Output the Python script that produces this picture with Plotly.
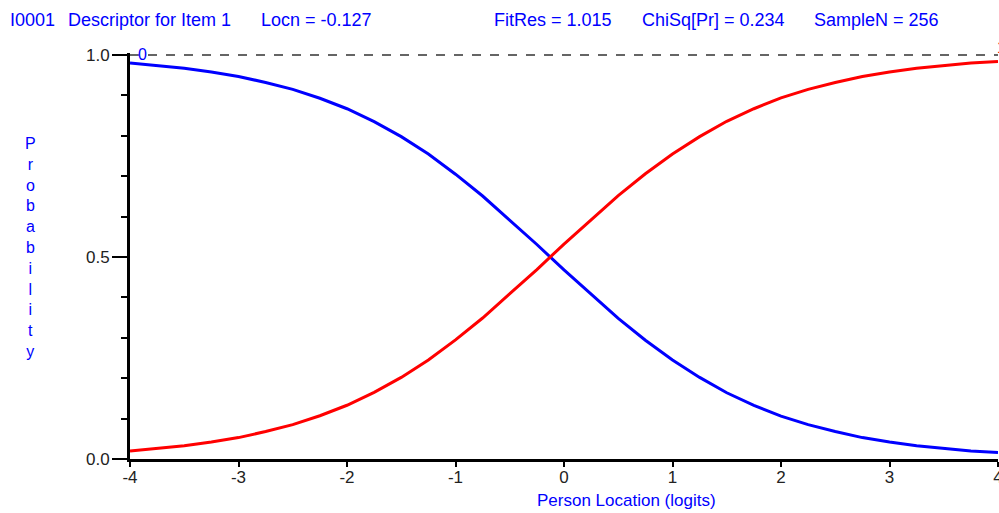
import plotly.graph_objects as go

# Person location (logits)
locations = [-4.0, -3.75, -3.5, -3.25, -3.0, -2.75, -2.5, -2.25, -2.0, -1.75, -1.5, -1.25,
             -1.0, -0.75, -0.5, -0.25, 0.0, 0.25, 0.5, 0.75, 1.0, 1.25, 1.5, 1.75,
             2.0, 2.25, 2.5, 2.75, 3.0, 3.25, 3.5, 3.75, 4.0]

# Category 0 probability (blue)
prob_cat0 = [0.980, 0.974, 0.967, 0.958, 0.947, 0.932, 0.915, 0.893, 0.867, 0.835, 0.798, 0.755,
             0.705, 0.651, 0.592, 0.531, 0.468, 0.407, 0.348, 0.294, 0.245, 0.202, 0.164, 0.133,
             0.106, 0.085, 0.068, 0.053, 0.042, 0.033, 0.026, 0.020, 0.016]

# Category 1 probability (red)
prob_cat1 = [0.020, 0.026, 0.033, 0.042, 0.053, 0.068, 0.085, 0.107, 0.133, 0.165, 0.202, 0.245,
             0.295, 0.349, 0.408, 0.469, 0.532, 0.593, 0.652, 0.706, 0.755, 0.798, 0.836, 0.867,
             0.894, 0.915, 0.932, 0.947, 0.958, 0.967, 0.974, 0.980, 0.984]

x_ticks = [-4, -3, -2, -1, 0, 1, 2, 3, 4]
y_ticks = [0.0, 0.5, 1.0]

header_parts = [("I0001", 8), ("Descriptor for Item 1", 66), ("Locn = -0.127", 259),
                ("FitRes = 1.015", 492), ("ChiSq[Pr] = 0.234", 640), ("SampleN = 256", 812)]

W, H = 999, 513
L, R, T, B = 130, 1, 53, 54
pw = W - L - R
ph = H - T - B
FONT = "Liberation Sans, Arial, sans-serif"
BLUE = "#0000ff"
RED = "#ff0000"

fig = go.Figure()
fig.add_trace(go.Scatter(x=locations, y=prob_cat0, mode="lines",
                         line=dict(color=BLUE, width=3), showlegend=False, hoverinfo="skip"))
fig.add_trace(go.Scatter(x=locations, y=prob_cat1, mode="lines",
                         line=dict(color=RED, width=3), showlegend=False, hoverinfo="skip"))

# dashed reference line at probability 1
fig.add_shape(type="line", xref="paper", yref="y", x0=0, x1=1, y0=1, y1=1,
              line=dict(color="#333333", width=1.5, dash="dash"), layer="below")

annotations = []
for text, px in header_parts:
    annotations.append(dict(text=text, xref="paper", yref="paper",
                            x=(px - L) / pw, y=(H - B - 20) / ph,
                            xanchor="left", yanchor="middle", showarrow=False,
                            font=dict(family=FONT, size=18, color=BLUE)))
# y title (stacked letters)
annotations.append(dict(text="<br>".join(list("Probability")), xref="paper", yref="paper",
                        x=(30 - L) / pw, y=(H - B - 247) / ph, xanchor="center", yanchor="middle",
                        showarrow=False, align="center",
                        font=dict(family=FONT, size=16, color=BLUE)))
# x title
annotations.append(dict(text="Person Location (logits)", xref="paper", yref="paper",
                        x=(626 - L) / pw, y=(H - B - 500) / ph, xanchor="center", yanchor="middle",
                        showarrow=False, font=dict(family=FONT, size=17, color=BLUE)))
# category labels
annotations.append(dict(text="0", x=locations[0], y=1, xref="x", yref="y", xanchor="left",
                        yanchor="middle", showarrow=False, xshift=6, yshift=1,
                        font=dict(family=FONT, size=16, color=BLUE)))
annotations.append(dict(text="1", x=locations[-1], y=1, xref="x", yref="y", xanchor="left",
                        yanchor="middle", showarrow=False, xshift=-3, yshift=8,
                        font=dict(family=FONT, size=16, color=RED)))

fig.update_layout(
    width=W, height=H,
    margin=dict(l=L, r=R, t=T, b=B, autoexpand=False),
    paper_bgcolor="white", plot_bgcolor="white",
    showlegend=False,
    annotations=annotations,
    xaxis=dict(range=[-4, 4], tickvals=x_ticks, ticktext=[str(v) for v in x_ticks],
               automargin=False, ticklabeloverflow="allow",
               showgrid=False, zeroline=False, showline=True, linecolor="black", linewidth=3,
               ticks="outside", ticklen=5, tickwidth=1.5, tickcolor="black",
               tickfont=dict(family=FONT, size=17, color="#222222"), ticklabelstandoff=-4),
    xaxis2=dict(range=[-4, 4], overlaying="x", anchor="y", side="bottom", automargin=False,
                tickvals=x_ticks, showticklabels=False, showgrid=False, zeroline=False,
                showline=False, ticks="inside", ticklen=5, tickwidth=1.5, tickcolor="black"),
    yaxis=dict(range=[0, 1.005], tickvals=y_ticks, ticktext=["%.1f" % v for v in y_ticks],
               automargin=False,
               showgrid=False, zeroline=False, showline=True, linecolor="black", linewidth=3,
               ticks="outside", ticklen=15, tickwidth=1.5, tickcolor="black",
               minor=dict(dtick=0.1, tick0=0, ticks="outside", ticklen=6, tickwidth=1.5,
                          tickcolor="black", showgrid=False),
               tickfont=dict(family=FONT, size=17, color="#222222"), ticklabelstandoff=-1),
)

fig.write_html("out.html", config={"displayModeBar": False},
               post_script="document.body.style.margin='0';document.body.style.overflow='hidden';")
